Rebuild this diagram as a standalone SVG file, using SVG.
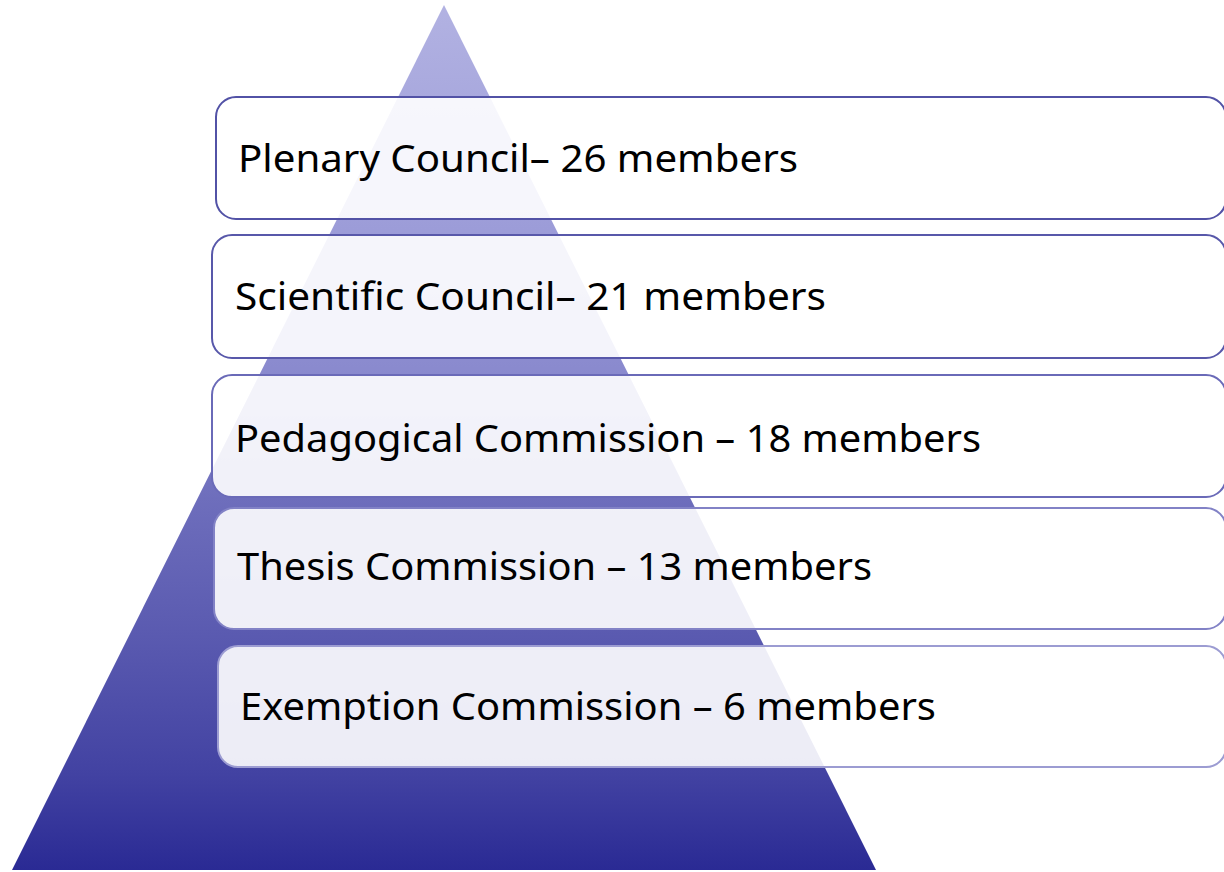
<svg xmlns="http://www.w3.org/2000/svg" width="1224" height="872" viewBox="0 0 1224 872">
  <defs>
    <linearGradient id="pyr" x1="0" y1="5" x2="0" y2="870" gradientUnits="userSpaceOnUse">
      <stop offset="0" stop-color="#b2b2e2"/>
      <stop offset="0.26" stop-color="#9c9cd8"/>
      <stop offset="0.42" stop-color="#8a8ace"/>
      <stop offset="0.57" stop-color="#6e6ebc"/>
      <stop offset="0.73" stop-color="#5a5ab0"/>
      <stop offset="0.89" stop-color="#4242a2"/>
      <stop offset="1" stop-color="#2a2a94"/>
    </linearGradient>
  </defs>
  <style>
    .box { fill: #ffffff; fill-opacity: 0.9; stroke-width: 2; }
    .lbl { font-family: "Noto Sans", "Open Sans", "DejaVu Sans", sans-serif; font-size: 38px; fill: #000000; }
  </style>
  <rect width="1224" height="872" fill="#ffffff"/>
  <g id="pyramid">
    <polygon points="444,5 12,870 876,870" fill="url(#pyr)"/>
  </g>
  <g id="connectors"/>
  <g id="node1">
    <rect class="box" x="216" y="97" width="1010" height="122" rx="20" stroke="#5252a6"/>
    <text class="lbl" x="238" y="172" textLength="560" lengthAdjust="spacingAndGlyphs">Plenary Council– 26 members</text>
  </g>
  <g id="node2">
    <rect class="box" x="212" y="235" width="1014" height="123" rx="20" stroke="#5858aa"/>
    <text class="lbl" x="235" y="310" textLength="591" lengthAdjust="spacingAndGlyphs">Scientific Council– 21 members</text>
  </g>
  <g id="node3">
    <rect class="box" x="212" y="375" width="1014" height="122" rx="20" stroke="#6a6ab8"/>
    <text class="lbl" x="235" y="452" textLength="746" lengthAdjust="spacingAndGlyphs">Pedagogical Commission – 18 members</text>
  </g>
  <g id="node4">
    <rect class="box" x="214" y="508" width="1012" height="121" rx="20" stroke="#8282c6"/>
    <text class="lbl" x="237" y="580" textLength="635" lengthAdjust="spacingAndGlyphs">Thesis Commission – 13 members</text>
  </g>
  <g id="node5">
    <rect class="box" x="218" y="646" width="1008" height="121" rx="20" stroke="#9c9cd2"/>
    <text class="lbl" x="240" y="720" textLength="696" lengthAdjust="spacingAndGlyphs">Exemption Commission – 6 members</text>
  </g>
</svg>
